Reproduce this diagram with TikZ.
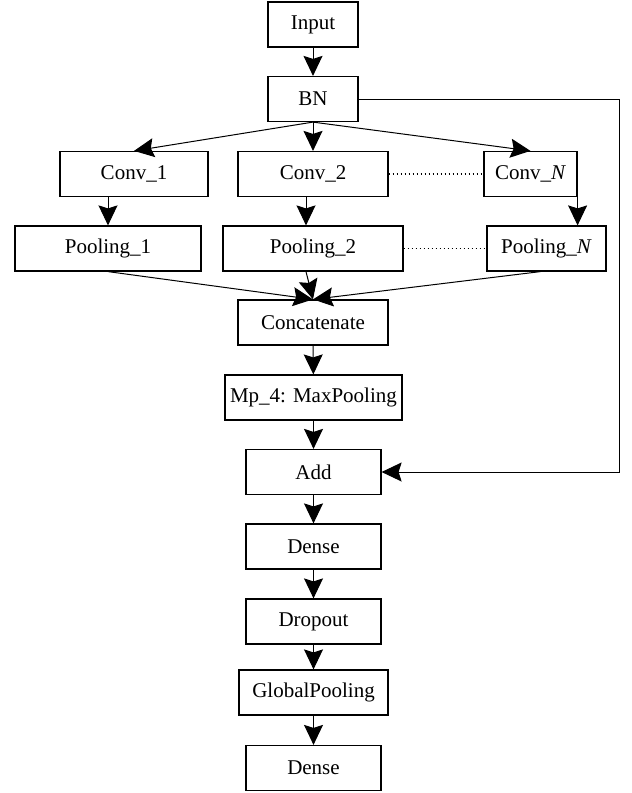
\documentclass[tikz,border=0pt]{standalone}
\usepackage{fontspec}
\setmainfont{Liberation Serif}
\usetikzlibrary{arrows.meta,calc}

\begin{document}
\begin{tikzpicture}[x=0.5pt,y=-0.5pt,
  blk/.style={draw,line width=0.6pt,inner sep=0pt,minimum height=22.5pt,
    font=\fontsize{10.5}{12}\selectfont},
  flow/.style={line width=0.5pt,-{Stealth[length=10pt,width=9.5pt,inset=1.5pt]}},
  gap/.style={line width=0.6pt,dash pattern=on 0.5pt off 1.5pt}]
\useasboundingbox (0,0) rectangle (632,793);

% main column
\node[blk,minimum width=45pt] (input) at (313,24.5) {Input};
\node[blk,minimum width=45pt] (bn) at (313,99) {BN};

% branches
\node[blk,minimum width=74pt] (conv1) at (134,174) {Conv\_1};
\node[blk,minimum width=75pt] (conv2) at (313,174) {Conv\_2};
\node[blk,minimum width=46.5pt] (convN) at (530.5,174) {Conv\_\textit{N}};
\node[blk,minimum width=93pt] (pool1) at (108,248.5) {Pooling\_1};
\node[blk,minimum width=90pt] (pool2) at (313,248.5) {Pooling\_2};
\node[blk,minimum width=59.5pt] (poolN) at (546.5,248.5) {Pooling\_\textit{N}};

\node[blk,minimum width=75pt] (concat) at (313,322.5) {Concatenate};
\node[blk,minimum width=88.5pt] (mp) at (313.5,397.5) {Mp\_4: MaxPooling};
\node[blk,minimum width=67.5pt] (add) at (313.5,472) {Add};
\node[blk,minimum width=67.5pt] (dense1) at (313.5,546.5) {Dense};
\node[blk,minimum width=67.5pt] (drop) at (313.5,621.5) {Dropout};
\node[blk,minimum width=74.5pt] (gpool) at (313.5,692.5) {GlobalPooling};
\node[blk,minimum width=67.5pt] (dense2) at (313.5,768) {Dense};

\coordinate (c2) at ($(conv2.south)+(-7,0)$);
\coordinate (skip) at (619,0);

\draw[flow] (input) -- (bn);
\draw[flow] (bn.south) -- (conv1.north);
\draw[flow] (bn.south) -- (conv2.north);
\draw[flow] (bn.south) -- (convN.north);

\draw[flow] (conv1.south -| pool1.north) -- (pool1.north);
\draw[flow] (c2) -- (c2 |- pool2.north);
\draw[flow] (convN.south east) -- (convN.south east |- poolN.north);

\draw[gap] (conv2.east) -- (convN.west);
\draw[gap] (pool2.east) -- (poolN.west);

\draw[flow] (pool1.south) -- (concat.north);
\draw[flow] (c2 |- pool2.south) -- (concat.north);
\draw[flow] ($(poolN.south)+(-6,0)$) -- (concat.north);

\draw[flow] (concat) -- (mp);
\draw[flow] (mp) -- (add);
\draw[flow] (add) -- (dense1);
\draw[flow] (dense1) -- (drop);
\draw[flow] (drop) -- (gpool);
\draw[flow] (gpool) -- (dense2);

% skip connection
\draw[flow] (bn.east) -- (bn.east -| skip) |- (add.east);
\end{tikzpicture}
\end{document}
